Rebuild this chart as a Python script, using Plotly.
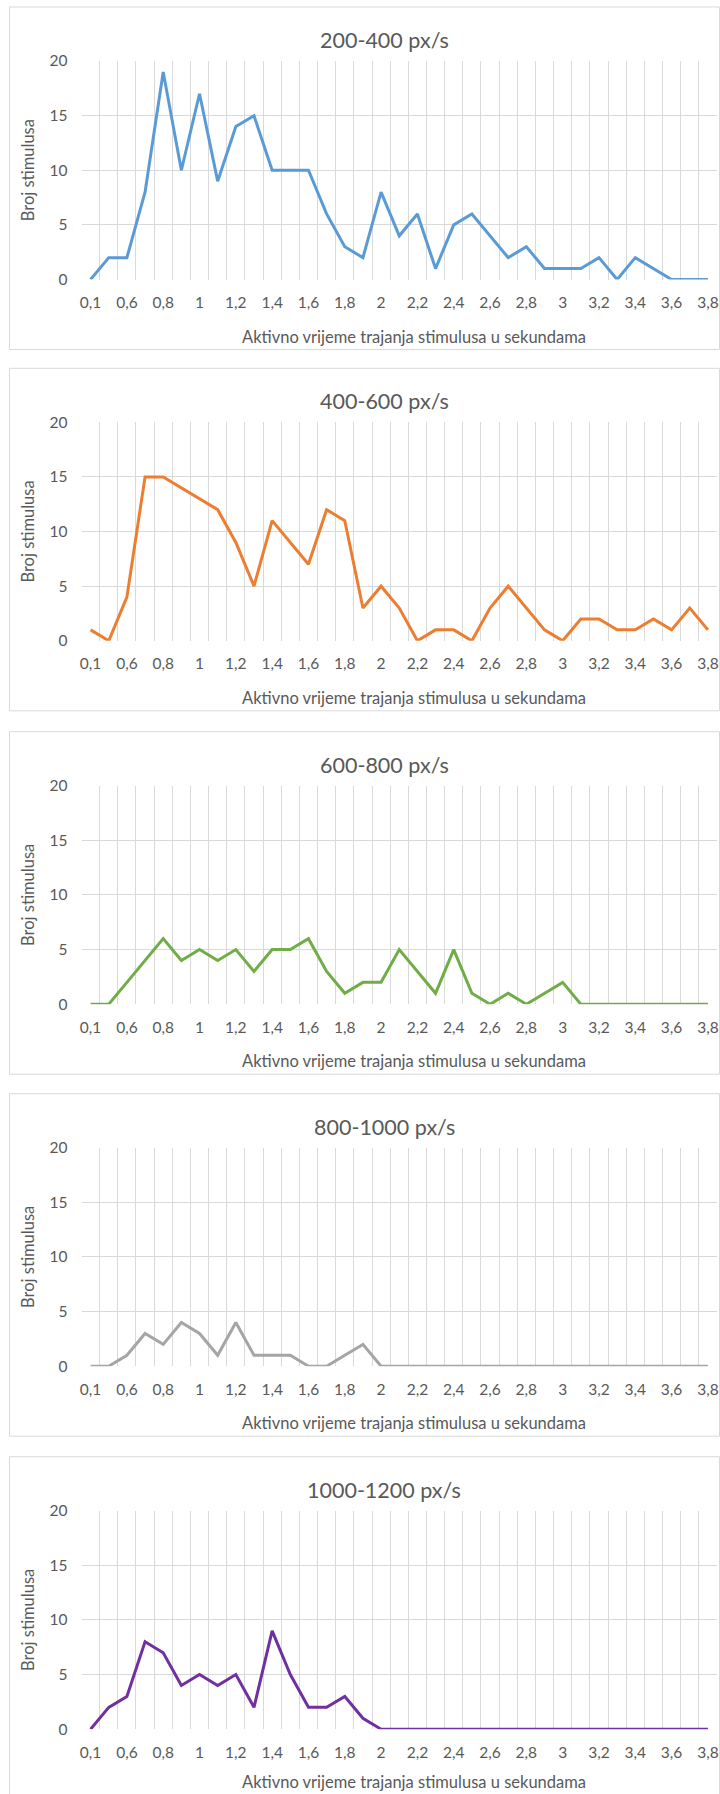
import plotly.graph_objects as go

# ---- data ----
categories = ["0,1", "0,5", "0,6", "0,7", "0,8", "0,9", "1", "1,1", "1,2", "1,3", "1,4", "1,5",
              "1,6", "1,7", "1,8", "1,9", "2", "2,1", "2,2", "2,3", "2,4", "2,5", "2,6", "2,7",
              "2,8", "2,9", "3", "3,1", "3,2", "3,3", "3,4", "3,5", "3,6", "3,7", "3,8"]

titles = ["200-400 px/s", "400-600 px/s", "600-800 px/s", "800-1000 px/s", "1000-1200 px/s"]

s_200_400 = [0, 2, 2, 8, 19, 10, 17, 9, 14, 15, 10, 10, 10, 6, 3, 2, 8, 4, 6, 1, 5, 6, 4, 2,
             3, 1, 1, 1, 2, 0, 2, 1, 0, 0, 0]
s_400_600 = [1, 0, 4, 15, 15, 14, 13, 12, 9, 5, 11, 9, 7, 12, 11, 3, 5, 3, 0, 1, 1, 0, 3, 5,
             3, 1, 0, 2, 2, 1, 1, 2, 1, 3, 1]
s_600_800 = [0, 0, 2, 4, 6, 4, 5, 4, 5, 3, 5, 5, 6, 3, 1, 2, 2, 5, 3, 1, 5, 1, 0, 1,
             0, 1, 2, 0, 0, 0, 0, 0, 0, 0, 0]
s_800_1000 = [0, 0, 1, 3, 2, 4, 3, 1, 4, 1, 1, 1, 0, 0, 1, 2, 0, 0, 0, 0, 0, 0, 0, 0,
              0, 0, 0, 0, 0, 0, 0, 0, 0, 0, 0]
s_1000_1200 = [0, 2, 3, 8, 7, 4, 5, 4, 5, 2, 9, 5, 2, 2, 3, 1, 0, 0, 0, 0, 0, 0, 0, 0,
               0, 0, 0, 0, 0, 0, 0, 0, 0, 0, 0]

series = [s_200_400, s_400_600, s_600_800, s_800_1000, s_1000_1200]
colors = ["#5B9BD5", "#ED7D31", "#70AD47", "#A5A5A5", "#7030A0"]

y_title = "Broj stimulusa"
x_title = "Aktivno vrijeme trajanja stimulusa u sekundama"

# ---- layout geometry (pixels) ----
W, H = 720, 1794
plot_tops = [61, 422.3, 785.7, 1147.7, 1510.7]
plot_h = 218.5
plot_left, plot_right = 81.5, 717.0
FONT = "Lato"
GRID = "#D9D9D9"
TXT = "#595959"

def px_x(x):
    return x / W

def px_y(y):
    return 1 - y / H

idx = list(range(len(categories)))

fig = go.Figure()
shapes = []
annotations = []

for i, (vals, col, ttl) in enumerate(zip(series, colors, titles)):
    n = "" if i == 0 else str(i + 1)
    top = plot_tops[i]
    bot = top + plot_h
    fig.add_trace(go.Scatter(
        x=idx, y=vals, mode="lines",
        line=dict(color=col, width=3),
        xaxis="x" + n, yaxis="y" + n, showlegend=False,
        hoverinfo="skip",
    ))
    fig.update_layout(**{
        "xaxis" + n: dict(
            domain=[px_x(plot_left), px_x(plot_right)],
            anchor="y" + n,
            range=[-0.5, len(categories) - 0.5],
            tickmode="array",
            tickvals=idx[::2],
            ticktext=categories[::2],
            showgrid=False, zeroline=False, showline=False,
            ticks="", ticklabelstandoff=12,
            automargin=False,
            tickfont=dict(family=FONT, size=15.5, color=TXT),
            minor=dict(tickmode="array",
                       tickvals=[k - 0.5 for k in range(len(categories) + 1)],
                       showgrid=True, gridcolor=GRID, gridwidth=1, ticks=""),
            fixedrange=True,
        ),
        "yaxis" + n: dict(
            domain=[px_y(bot), px_y(top)],
            anchor="x" + n,
            range=[0, 20], tickmode="linear", tick0=0, dtick=5,
            showgrid=True, gridcolor=GRID, gridwidth=1,
            zeroline=False, showline=False,
            ticks="", ticklabelstandoff=13,
            automargin=False,
            tickfont=dict(family=FONT, size=15.5, color=TXT),
            fixedrange=True,
        ),
    })
    # panel border
    shapes.append(dict(type="rect", xref="paper", yref="paper",
                       x0=px_x(9.5), x1=px_x(719.5),
                       y0=px_y(min(top - 54, H)), y1=px_y(min(bot + 70, H + 2)),
                       line=dict(color=GRID, width=1), fillcolor="rgba(0,0,0,0)",
                       layer="below"))
    # chart title
    annotations.append(dict(text=ttl, xref="paper", yref="paper",
                            x=px_x(384), y=px_y(top - 21), xanchor="center", yanchor="middle",
                            showarrow=False, font=dict(family=FONT, size=21.5, color=TXT)))
    # y axis title
    annotations.append(dict(text=y_title, xref="paper", yref="paper",
                            x=px_x(28), y=px_y(top + plot_h / 2), xanchor="center",
                            yanchor="middle", textangle=-90,
                            showarrow=False, font=dict(family=FONT, size=16.5, color=TXT)))
    # x axis title
    annotations.append(dict(text=x_title, xref="paper", yref="paper",
                            x=px_x(414.5), y=px_y(min(bot + 57, H - 12)),
                            xanchor="center", yanchor="middle",
                            showarrow=False, font=dict(family=FONT, size=16.5, color=TXT)))

fig.update_layout(
    width=W, height=H, autosize=False,
    margin=dict(l=0, r=0, t=0, b=0, pad=0),
    paper_bgcolor="white", plot_bgcolor="white",
    shapes=shapes, annotations=annotations,
    font=dict(family=FONT, color=TXT),
)

fig.write_html(
    "out.html",
    config={"displayModeBar": False},
    post_script="document.body.style.margin='0px'; document.body.style.overflow='hidden';",
)
